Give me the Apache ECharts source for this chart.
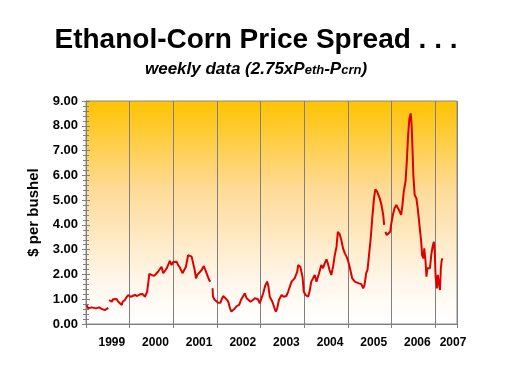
<!DOCTYPE html>
<html><head><meta charset="utf-8">
<script src="https://cdn.jsdelivr.net/npm/echarts@6/dist/echarts.min.js"></script>
<style>html,body{margin:0;padding:0;background:#fff}#c{width:512px;height:384px}</style>
</head><body><div id="c"></div>
<script>
// decimal year of each reading
var years = [
1999.01,1999.05,1999.13,1999.17,1999.23,1999.26,1999.30,1999.36,1999.43,1999.47,1999.51,1999.52,
1999.53,1999.57,1999.59,1999.62,1999.66,1999.70,1999.74,1999.78,1999.82,1999.84,1999.89,1999.93,1999.97,1999.99,
2000.02,2000.07,2000.12,2000.17,2000.24,2000.30,2000.35,2000.37,2000.40,2000.43,2000.45,2000.50,2000.56,2000.60,
2000.65,2000.69,2000.73,2000.77,2000.81,2000.85,2000.88,2000.92,2000.96,2001.00,2001.04,2001.08,2001.11,2001.15,
2001.21,2001.24,2001.29,2001.34,2001.38,2001.42,2001.46,2001.49,2001.52,2001.55,2001.59,2001.65,2001.70,2001.74,
2001.77,2001.82,2001.85,2001.87,
2001.90,2001.91,2001.95,2001.99,2002.03,2002.08,2002.14,2002.18,2002.22,2002.26,2002.30,2002.33,2002.37,2002.41,
2002.46,2002.51,2002.55,2002.59,2002.64,2002.68,2002.71,2002.77,2002.81,2002.87,2002.91,2002.94,2002.98,2003.02,
2003.06,2003.11,2003.15,2003.18,2003.21,2003.27,2003.32,2003.35,2003.38,2003.42,2003.48,2003.53,2003.59,2003.63,
2003.71,2003.78,2003.84,2003.86,2003.91,2003.96,2003.99,2004.03,2004.09,2004.13,2004.16,2004.20,2004.24,2004.28,
2004.34,2004.39,2004.43,2004.47,2004.51,2004.54,2004.58,2004.62,2004.66,2004.70,2004.74,2004.77,2004.81,2004.85,
2004.89,2004.93,2004.97,2005.00,2005.04,2005.10,2005.16,2005.19,2005.25,2005.31,2005.35,2005.38,2005.42,2005.45,
2005.48,2005.52,2005.56,2005.60,2005.63,2005.67,2005.70,2005.73,2005.77,2005.81,2005.83,2005.845,
2005.86,2005.89,2005.93,2005.97,2005.99,2006.03,2006.07,2006.11,2006.15,2006.19,2006.22,2006.25,2006.28,2006.32,
2006.35,2006.38,2006.41,2006.44,2006.46,2006.48,2006.50,2006.53,2006.55,2006.57,2006.60,2006.64,2006.68,2006.70,
2006.73,2006.75,2006.78,2006.80,2006.82,2006.85,2006.88,2006.91,2006.94,2006.97,2006.99,2007.01,2007.04,2007.06,
2007.08,2007.11,2007.13,2007.15,2007.17
];
// spread in $ per bushel (null = gap in the weekly series)
var spread = [
0.77,0.63,0.67,0.59,0.63,0.70,0.67,0.61,0.56,0.63,0.65,null,
0.97,1.02,0.90,1.00,0.93,1.01,0.90,0.97,0.77,0.90,0.97,1.08,1.17,1.24,
1.10,1.13,1.17,1.13,1.20,1.21,1.10,1.08,1.30,1.71,2.02,1.98,1.94,1.98,
2.11,2.18,2.31,2.05,2.15,2.25,2.38,2.55,2.38,2.50,2.55,2.51,2.38,2.28,
2.05,1.98,2.31,2.78,2.85,2.72,2.65,2.18,1.84,1.98,1.94,2.18,2.34,2.15,
2.07,1.78,1.71,null,
1.44,1.10,0.97,1.00,0.86,0.86,1.13,1.10,1.00,0.90,0.63,0.50,0.56,0.63,
0.73,0.77,0.97,0.94,1.24,1.04,1.00,0.90,0.97,1.04,1.10,1.00,0.83,0.90,
1.24,1.57,1.71,1.51,1.10,0.90,0.63,0.50,0.63,0.97,1.17,1.10,1.13,1.30,
1.71,1.84,2.11,2.38,2.31,1.91,1.30,1.17,1.10,1.37,1.71,1.84,1.98,1.71,
2.05,2.38,2.25,2.45,2.61,2.45,2.18,1.98,2.31,2.78,3.12,3.72,3.63,3.39,
3.05,2.85,2.72,2.58,2.31,1.84,1.71,1.67,1.64,1.61,1.44,1.57,2.05,2.18,
2.72,3.40,4.30,5.10,5.43,5.34,5.27,5.07,4.80,4.40,4.00,null,
3.72,3.59,3.52,3.72,4.00,4.40,4.67,4.80,4.73,4.53,4.40,4.80,5.34,5.74,
6.55,7.63,8.30,8.50,8.03,7.09,6.01,5.21,5.14,5.07,4.67,4.00,3.32,2.78,
2.65,3.05,2.51,1.91,2.25,2.31,2.25,2.78,3.12,3.32,2.92,1.91,1.44,1.98,
1.71,1.37,2.25,2.58,2.65
];
var yTicks = [0,1,2,3,4,5,6,7,8,9];
var yearLabels = ['1999','2000','2001','2002','2003','2004','2005','2006','2007'];

var lineData = years.map(function(t,i){ return [t, spread[i] === null ? '-' : spread[i]]; });
var FONT = 'Liberation Sans, Arial, sans-serif';

var chart = echarts.init(document.getElementById('c'), null, {renderer:'canvas'});
chart.setOption({
  animation:false,
  backgroundColor:'#ffffff',
  title:[{
    text:'Ethanol-Corn Price Spread . . .',
    left:'center', top:21,
    textStyle:{fontFamily:FONT,fontSize:28,fontWeight:'bold',color:'#000'}
  },{
    text:'{m|weekly data (2.75xP}{s|eth}{m|-P}{s|crn}{m|)}',
    left:'center', top:56,
    textStyle:{fontFamily:FONT,fontSize:17,fontWeight:'bold',fontStyle:'italic',color:'#000',
      rich:{
        m:{fontFamily:FONT,fontSize:17,lineHeight:17,fontWeight:'bold',fontStyle:'italic',color:'#000',verticalAlign:'bottom'},
        s:{fontFamily:FONT,fontSize:13,lineHeight:13,fontWeight:'bold',fontStyle:'italic',color:'#000',verticalAlign:'bottom',padding:[0,0,1,0]}}}
  }],
  grid:{left:86,right:55,top:101,bottom:60,show:true,borderColor:'#8a8a8a',borderWidth:1,
    backgroundColor:{type:'linear',x:0,y:0,x2:0,y2:1,colorStops:[
      {offset:0,color:'#FFC300'},{offset:0.4,color:'#FEDB98'},{offset:0.8,color:'#FFF6EA'},{offset:1,color:'#FFFFFF'}]}},
  xAxis:[{
    type:'value', min:1999, max:2007.5, interval:1,
    axisLine:{show:true,lineStyle:{color:'#808080',width:1}},
    axisTick:{show:true,length:4,lineStyle:{color:'#808080'}},
    axisLabel:{show:false},
    splitLine:{show:true,lineStyle:{color:'#808080',width:1}}
  },{
    type:'value', min:1999, max:2007.5, interval:0.5, position:'bottom',
    axisLine:{show:false}, axisTick:{show:false}, splitLine:{show:false},
    axisLabel:{show:true, showMinLabel:true, showMaxLabel:true, margin:13,
      fontFamily:FONT,fontSize:12,fontWeight:'bold',color:'#000',padding:[0,0,0,8],
      formatter:function(v){
        var f = Math.round((v - Math.floor(v))*10);
        if (f !== 5) return '';
        var idx = Math.floor(v) - 1999;
        if (idx === 8) return '{r|' + yearLabels[idx] + '}';
        return yearLabels[idx] || '';
      },
      rich:{r:{fontFamily:FONT,fontSize:12,fontWeight:'bold',color:'#000',padding:[0,16,0,0]}}
    }
  }],
  yAxis:[{
    type:'value', min:yTicks[0], max:yTicks[yTicks.length-1], interval:1,
    name:'$ per bushel', nameLocation:'middle', nameGap:42,
    nameTextStyle:{fontFamily:FONT,fontSize:15,fontWeight:'bold',color:'#000'},
    axisLine:{show:true,lineStyle:{color:'#808080',width:1}},
    axisTick:{show:true,length:4,lineStyle:{color:'#808080'}},
    minorTick:{show:true,splitNumber:5,length:3,lineStyle:{color:'#808080'}},
    axisLabel:{fontFamily:FONT,fontSize:13,fontWeight:'bold',color:'#000',margin:8,
      formatter:function(v){return v.toFixed(2);}},
    splitLine:{show:false}
  },{
    type:'value', min:yTicks[0], max:yTicks[yTicks.length-1], interval:1, position:'left',
    axisLine:{show:false},
    axisTick:{show:true,inside:true,length:4,lineStyle:{color:'#808080'}},
    minorTick:{show:true,splitNumber:5,length:3,lineStyle:{color:'#808080'}},
    axisLabel:{show:false}, splitLine:{show:false}
  }],
  series:[{
    type:'line', xAxisIndex:0, yAxisIndex:0, data:lineData,
    showSymbol:false, symbol:'none', connectNulls:false,
    lineStyle:{color:'#DD0000',width:2}
  }]
});
</script></body></html>
